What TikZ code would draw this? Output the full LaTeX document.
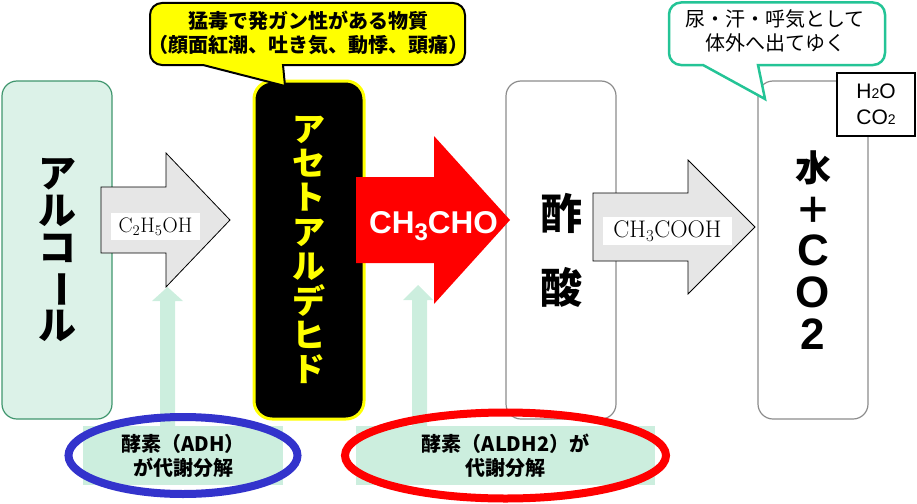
\documentclass[tikz,border=0pt]{standalone}
\usepackage{fontspec}
\usepackage{graphicx}
\newfontfamily\jp{Noto Sans CJK JP}
\newfontfamily\arial{Liberation Sans}
\usetikzlibrary{positioning}
\definecolor{alcfill}{RGB}{220,242,232}
\definecolor{alcline}{RGB}{64,150,110}
\definecolor{enzfill}{RGB}{204,238,222}
\definecolor{boxline}{RGB}{140,140,140}
\definecolor{arrfill}{RGB}{230,230,230}
\definecolor{calloutline}{RGB}{36,196,150}
\definecolor{adhblue}{RGB}{51,51,204}
\definecolor{markyellow}{RGB}{255,255,0}

\begin{document}
\begin{tikzpicture}[x=1pt,y=-1pt,node distance=142pt,
  stage node/.style={draw=boxline,line width=1.2pt,fill=white,rounded corners=15pt,
    minimum width=110pt,minimum height=338pt,inner sep=0pt,outer sep=0pt,align=center},
  block arrow/.style={fill=arrfill,draw=black,line width=0.8pt},
  formula node/.style={fill=white,inner sep=0pt,font=\fontsize{21}{21}\selectfont},
  enzyme node/.style={fill=enzfill,minimum height=59pt,inner sep=0pt,align=center,
    font=\jp\bfseries\fontsize{20}{24}\selectfont},
  note node/.style={align=center,inner sep=0pt,font=\jp\fontsize{20}{24}\selectfont}]
  \useasboundingbox (0,0) rectangle (917,503);

  % stages
  \node[stage node,draw=alcline,fill=alcfill,font=\jp\bfseries\fontsize{38}{37}\selectfont]
    (alc) at (57,250) {ア\\ル\\コ\\\rotatebox[origin=c]{-90}{ー}\\ル};
  \node[stage node,right=of alc,draw=markyellow,line width=3pt,fill=black,rounded corners=18pt,
    text=markyellow,font=\jp\bfseries\fontsize{33}{34.4}\selectfont]
    (ald) {ア\\セ\\ト\\ア\\ル\\デ\\ヒ\\ド};
  \node[stage node,right=of ald,font=\jp\bfseries\fontsize{42}{74}\selectfont] (acid) {酢\\酸};
  \node[stage node,right=of acid,font=\arial\bfseries\fontsize{44}{42}\selectfont]
    (water) {{\jp\fontsize{36}{42}\selectfont 水}\\{\jp\fontsize{36}{42}\selectfont ＋}\\C\\O\\2};
  \node[draw=black,line width=2pt,fill=white,minimum width=78pt,minimum height=63pt,
    align=center,font=\arial\fontsize{21}{26}\selectfont]
    (gas) at (876,104.5) {H{\fontsize{14}{14}\selectfont 2}O\\CO{\fontsize{14}{14}\selectfont 2}};

  % arrows between the stages
  \draw[block arrow] (101,187) -- (166,187) -- (166,153) -- (230,220) -- (166,287)
    -- (166,253) -- (101,253) -- cycle;
  \node[formula node,minimum width=89pt,minimum height=27pt] (f1) at (155.5,226.5) {$\mathrm{C_2H_5OH}$};
  \fill[red] (356,177) -- (434,177) -- (434,136) -- (510,220) -- (434,304)
    -- (434,263) -- (356,263) -- cycle;
  \node[text=white,font=\arial\bfseries\fontsize{31.5}{31.5}\selectfont,anchor=base]
    (f2) at (433.5,233) {CH\raisebox{-7pt}{\fontsize{24}{24}\selectfont 3}CHO};
  \draw[block arrow] (593,193) -- (688,193) -- (688,160) -- (755,227) -- (688,294)
    -- (688,261) -- (593,261) -- cycle;
  \node[formula node,minimum width=129pt,minimum height=28pt,font=\fontsize{24}{24}\selectfont]
    (f3) at (667.5,231) {$\mathrm{CH_3COOH}$};

  % enzymes
  \fill[enzfill] (160,427) -- (160,301) -- (152,301) -- (167.5,287) -- (183,301)
    -- (175,301) -- (175,427) -- cycle;
  \node[enzyme node,minimum width=200pt] (adh) at (183,455.5) {酵素（ADH）\\が代謝分解};
  \draw[adhblue,line width=8pt] (adh.center) ellipse [x radius=114.5,y radius=38.5];
  \fill[enzfill] (412,427) -- (412,300) -- (403,300) -- (418,285) -- (433,300)
    -- (427,300) -- (427,427) -- cycle;
  \node[enzyme node,minimum width=299pt] (aldh) at (505.5,455.5) {酵素（ALDH2）が\\代謝分解};
  \draw[red,line width=8pt] (aldh.center) ellipse [x radius=160.5,y radius=43];

  % callouts
  \draw[fill=markyellow,line width=2pt] (162,3) -- (453,3) arc[start angle=-90,end angle=0,radius=12]
    -- (465,53) arc[start angle=0,end angle=90,radius=12] -- (283,65) -- (285,86) -- (203,65)
    -- (162,65) arc[start angle=90,end angle=180,radius=12] -- (150,15)
    arc[start angle=180,end angle=270,radius=12] -- cycle;
  \node[note node,font=\jp\bfseries\fontsize{20}{24}\selectfont] (warn) at (308.5,33)
    {猛毒で発ガン性がある物質\\（顔面紅潮、吐き気、動悸、頭痛）};
  \draw[draw=calloutline,fill=white,line width=2.5pt] (681,2.5) -- (873,2.5)
    arc[start angle=-90,end angle=0,radius=12] -- (885,53) arc[start angle=0,end angle=90,radius=12]
    -- (758,65) -- (765,99) -- (703,65) -- (681,65) arc[start angle=90,end angle=180,radius=12]
    -- (669,14.5) arc[start angle=180,end angle=270,radius=12] -- cycle;
  \node[note node] (exit) at (775,30.5) {尿・汗・呼気として\\体外へ出てゆく};
\end{tikzpicture}
\end{document}
